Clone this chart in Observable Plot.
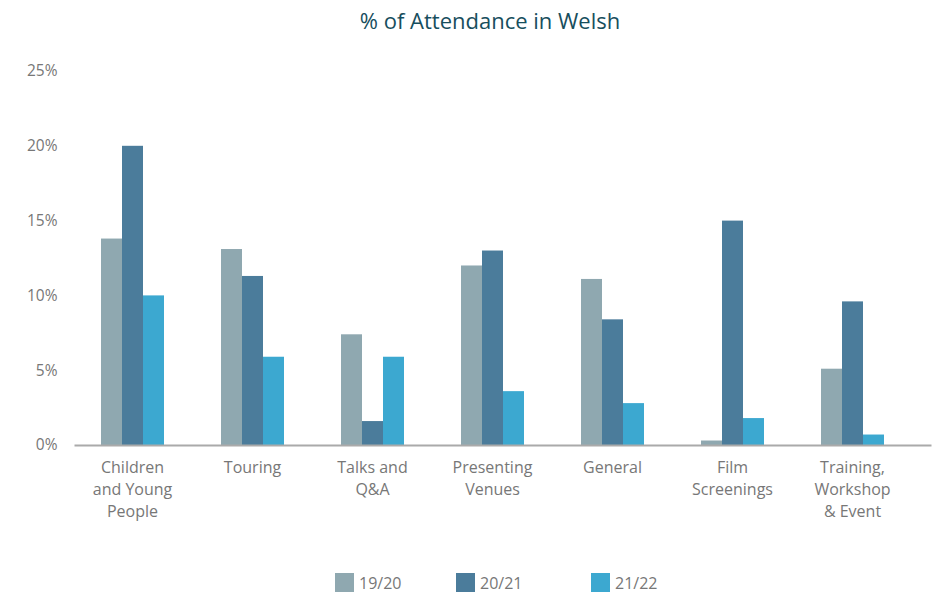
<!DOCTYPE html>
<html>
<head>
<meta charset="utf-8">
<script src="https://cdn.jsdelivr.net/npm/d3@7"></script>
<script src="https://cdn.jsdelivr.net/npm/@observablehq/plot@0.6"></script>
<style>
  body { margin: 0; background: #fff; font-family: "Open Sans", sans-serif; }
  #title { width: 935px; height: 40px; line-height: 40px; box-sizing: border-box; padding-left: 45px; text-align: center; font-size: 22px; color: #174e5d; }
  #legend { width: 935px; height: 35px; margin-top: 5px; position: relative; font-size: 16px; color: #777; }
  .item { position: absolute; top: 0; height: 35px; display: flex; align-items: center; gap: 5px; }
  .sw { width: 19px; height: 19px; display: inline-block; }
</style>
</head>
<body>
<div id="title">% of Attendance in Welsh</div>
<div id="chart"></div>
<div id="legend"></div>
<script>
const categories = ["Children and Young People", "Touring", "Talks and Q&A", "Presenting Venues", "General", "Film Screenings", "Training, Workshop & Event"];
const categoryLabels = ["Children\nand Young\nPeople", "Touring", "Talks and\nQ&A", "Presenting\nVenues", "General", "Film\nScreenings", "Training,\nWorkshop\n& Event"];
const seasons = ["19/20", "20/21", "21/22"];
const values1920 = [13.8, 13.1, 7.4, 12.0, 11.1, 0.3, 5.1];
const values2021 = [20.0, 11.3, 1.6, 13.0, 8.4, 15.0, 9.6];
const values2122 = [10.0, 5.9, 5.9, 3.6, 2.8, 1.8, 0.7];
const yTicks = [0, 5, 10, 15, 20, 25];
const colors = ["#8fa8b0", "#4b7c9b", "#3ca8d0"];
const legendLeft = [335, 456, 591];

const series = [values1920, values2021, values2122];
const data = [];
categories.forEach((c, i) => {
  seasons.forEach((s, j) => data.push({category: c, season: s, value: series[j][i]}));
});

const chart = Plot.plot({
  width: 935,
  height: 520,
  marginTop: 31,
  marginBottom: 115,
  marginLeft: 75,
  marginRight: 4,
  style: {fontFamily: "Open Sans", fontSize: "15px", color: "#777", background: "#fff"},
  fx: {domain: categories, paddingInner: 0.469, paddingOuter: 0.286, align: 0.35, label: null},
  x: {domain: seasons, padding: 0, axis: null},
  y: {domain: [0, 25], axis: null},
  color: {domain: seasons, range: colors},
  marks: [
    Plot.barY(data, {fx: "category", x: "season", y: "value", fill: "season"}),
    Plot.frame({anchor: "bottom", stroke: "#aaaaaa", strokeWidth: 2, facet: "super", insetLeft: -25, insetRight: -46}),
    Plot.axisY({ticks: yTicks, tickFormat: d => d + "%", tickSize: 0, tickPadding: 43, fontSize: 15.5, label: null}),
    Plot.axisFx({anchor: "bottom", tickFormat: d => categoryLabels[categories.indexOf(d)], tickSize: 0, tickPadding: 12, lineHeight: 1.375, fontSize: 16, label: null})
  ]
});
document.getElementById("chart").appendChild(chart);

const legend = document.getElementById("legend");
seasons.forEach((s, i) => {
  const item = document.createElement("div");
  item.className = "item";
  item.style.left = legendLeft[i] + "px";
  item.innerHTML = `<span class="sw" style="background:${colors[i]}"></span><span>${s}</span>`;
  legend.appendChild(item);
});
</script>
</body>
</html>
